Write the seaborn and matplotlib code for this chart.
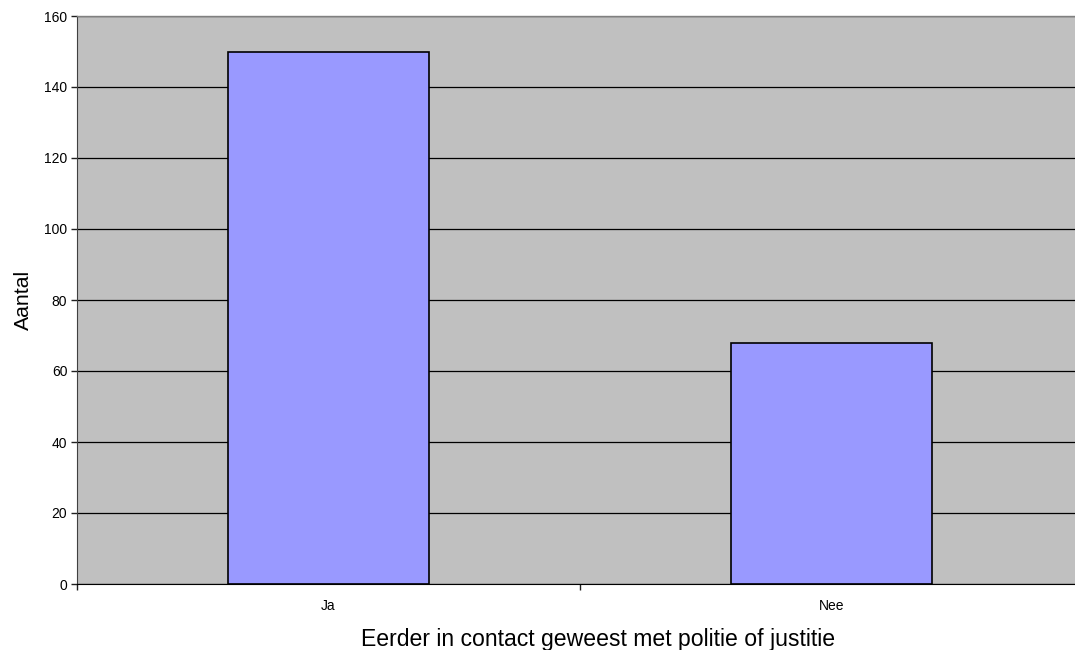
import matplotlib
matplotlib.use("Agg")
import matplotlib.pyplot as plt
import seaborn as sns
import pandas as pd

categories = ["Ja", "Nee"]
values = [150, 68]

sns.set_style("white")
plt.rcParams['font.family'] = ['Liberation Sans', 'DejaVu Sans']
plt.rcParams['text.color'] = 'black'
plt.rcParams['axes.labelcolor'] = 'black'
plt.rcParams['xtick.color'] = 'black'
plt.rcParams['ytick.color'] = 'black'

df = pd.DataFrame({"cat": categories, "val": values})

fig = plt.figure(figsize=(10.75, 6.5), dpi=100)
ax = fig.add_axes([77/1075, 66/650, 1006/1075, 568/650])
ax.set_facecolor("#C0C0C0")
ax.set_axisbelow(True)
ax.yaxis.grid(True, color="black", linewidth=0.9)
ax.xaxis.grid(False)

sns.barplot(data=df, x="cat", y="val", color="#9999FF", width=0.4,
            edgecolor="black", linewidth=1.2, saturation=1, ax=ax)

ax.set_xlim(-0.5, 1.5)
ax.set_ylim(0, 160)
ax.set_yticks(range(0, 161, 20))
ax.set_xticks([0, 1])
ax.set_xticklabels(categories)
ax.set_xticks([-0.5, 0.5, 1.5], minor=True)
ax.tick_params(axis="x", which="major", bottom=False, length=0, labelsize=10, pad=11, labelcolor="black")
ax.tick_params(axis="x", which="minor", bottom=True, length=4, width=1, color="#202020", direction="out")
ax.tick_params(axis="y", left=True, length=4, width=1, color="#202020", direction="out", labelsize=10, pad=3, labelcolor="black")

ax.spines["right"].set_visible(False)
ax.spines["top"].set_color("#808080")
ax.spines["top"].set_linewidth(1.0)
ax.spines["left"].set_color("#404040")
ax.spines["bottom"].set_color("black")

ax.set_xlabel("Eerder in contact geweest met politie of justitie", fontsize=16.6, color="black")
ax.xaxis.set_label_coords(0.518, -0.077)
ax.set_ylabel("Aantal", fontsize=15.3, labelpad=8, color="black")

fig.savefig("out.png", dpi=100)
